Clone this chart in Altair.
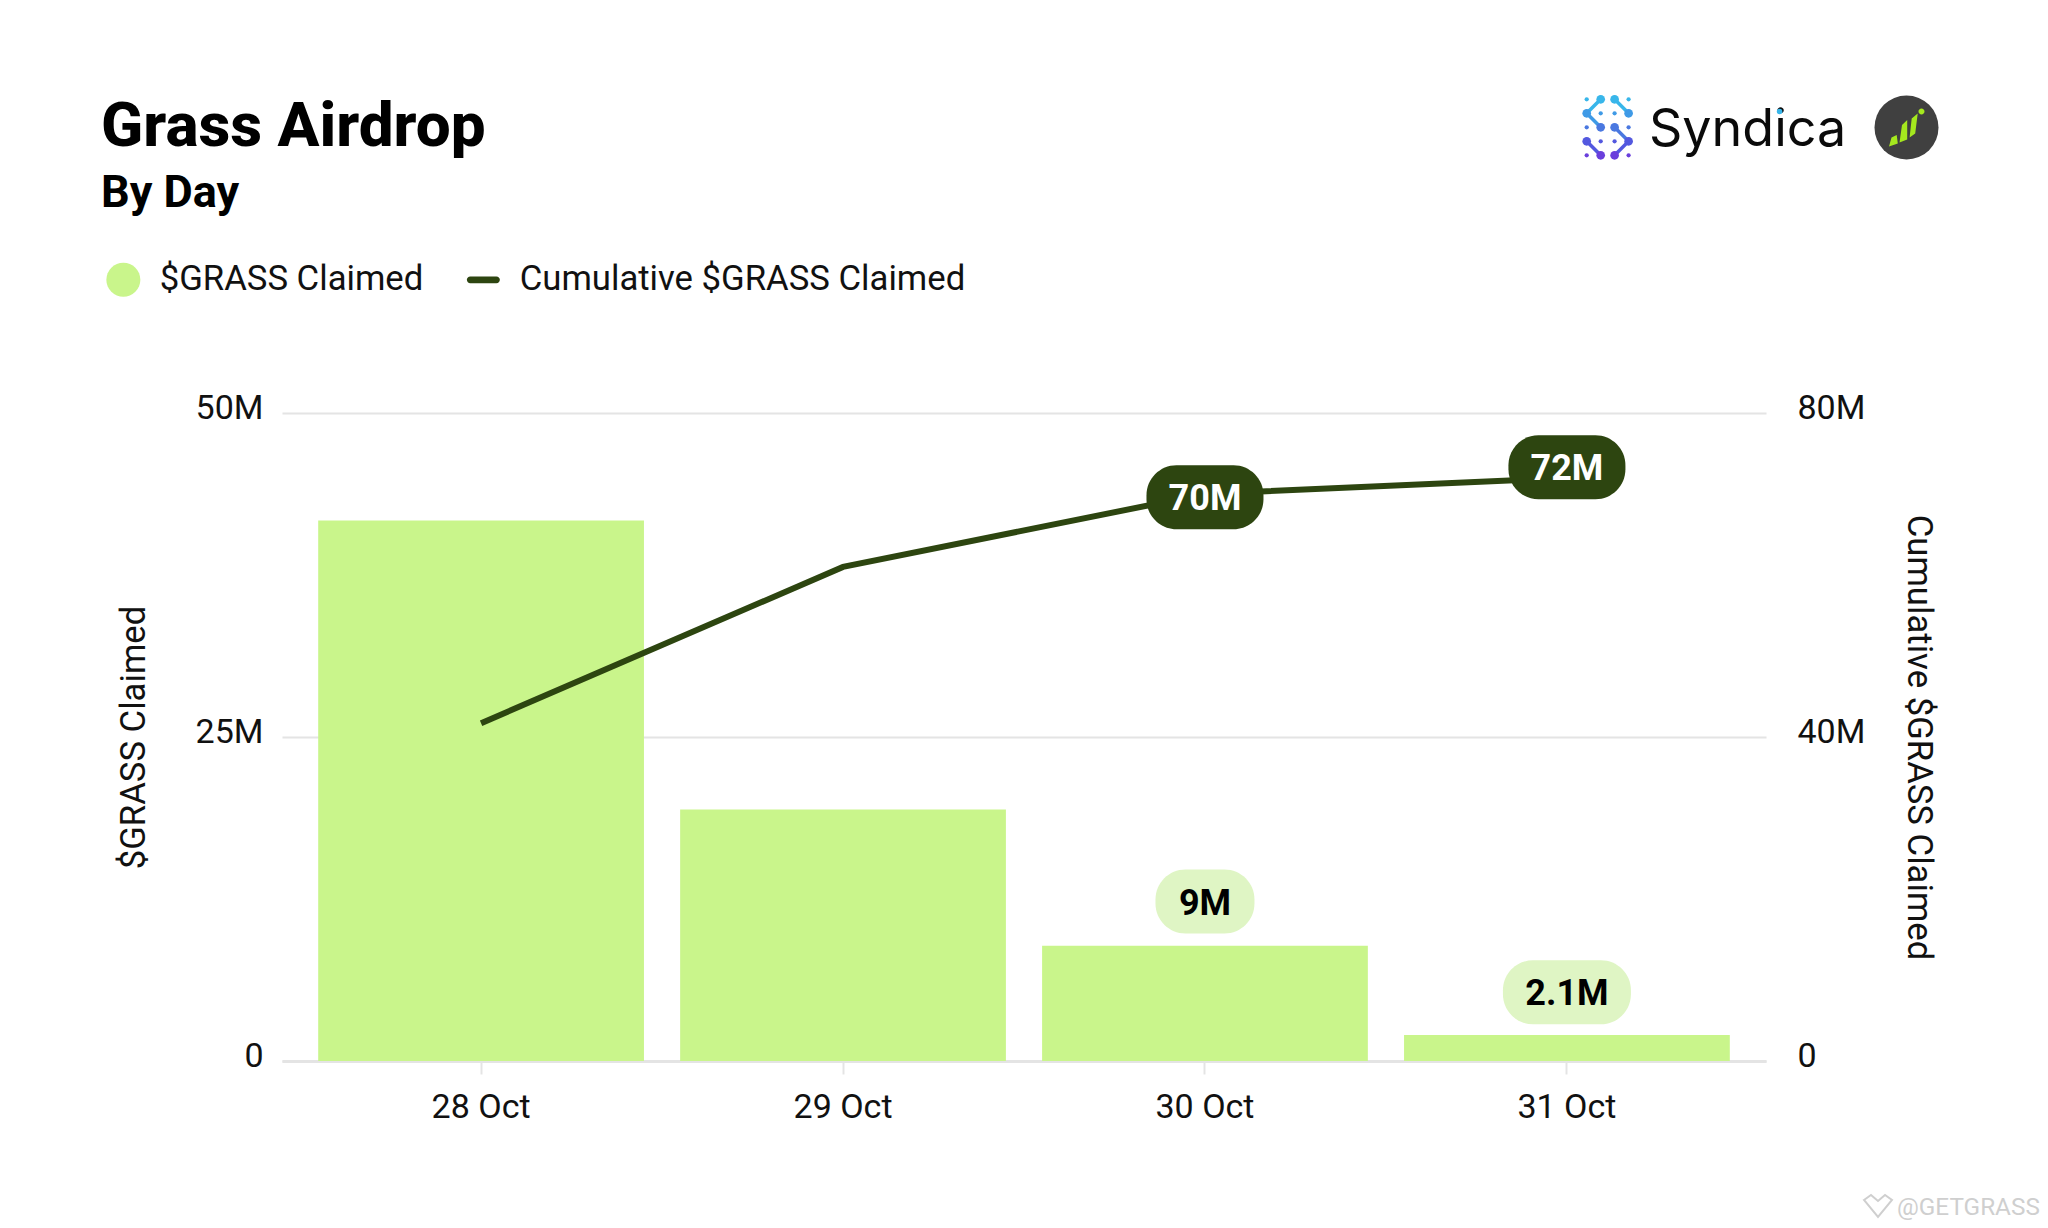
import altair as alt
import pandas as pd

# ---------- chart values ----------
days = ["28 Oct", "29 Oct", "30 Oct", "31 Oct"]
claimed = [41.7e6, 19.4e6, 8.9e6, 2.0e6]
cumulative = [41.7e6, 61.0e6, 70.0e6, 72.0e6]
series_names = ["$GRASS Claimed", "Cumulative $GRASS Claimed"]

dark_pill_days = ["30 Oct", "31 Oct"]
dark_pill_labels = ["70M", "72M"]
dark_pill_centers = [69.6e6, 73.3e6]
light_pill_days = ["30 Oct", "31 Oct"]
light_pill_labels = ["9M", "2.1M"]
light_pill_centers = [12.3e6, 5.3e6]

# ---------- layout / style ----------
FONT = "Roboto"
LIGHT = "#c9f58b"
DARK = "#2d4510"
PILL_LIGHT = "#dff5c4"
INK = "#111111"
GRID = "#e4e4e4"
W, H = 1484, 648
LEFT, TOP = 274, 405
ORIGIN_X, ORIGIN_Y = LEFT + 8, TOP + 8
LEFT_MAX, RIGHT_MAX = 50e6, 80e6


def fmt(expr="datum.value"):
    return f"{expr} === 0 ? '0' : ({expr} / 1000000) + 'M'"


x_scale = alt.Scale(domain=days, paddingInner=0.1, paddingOuter=0.1)
x_enc = alt.X(
    "day:N",
    scale=x_scale,
    title=None,
    axis=alt.Axis(
        labelAngle=0,
        labelFont=FONT,
        labelFontSize=34,
        labelColor=INK,
        labelPadding=16,
        domainColor=GRID,
        domainWidth=3,
        tickColor=GRID,
        tickWidth=2,
        tickSize=13,
    ),
)
x_plain = alt.X("day:N", scale=x_scale, title=None)
left_scale = alt.Scale(domain=[0, LEFT_MAX], nice=False)
right_scale = alt.Scale(domain=[0, RIGHT_MAX], nice=False)

base = pd.DataFrame({"day": days, "claimed": claimed, "cumulative": cumulative})

bars = (
    alt.Chart(base)
    .mark_bar(color=LIGHT)
    .encode(
        x=x_enc,
        y=alt.Y(
            "claimed:Q",
            scale=left_scale,
            axis=alt.Axis(
                values=[0, 25e6, 50e6],
                labelExpr=fmt(),
                title="$GRASS Claimed",
                titleFont=FONT,
                titleFontSize=34.7,
                titleFontWeight="normal",
                titleColor=INK,
                titleX=-148,
                titleY=H / 2,
                titleBaseline="middle",
                labelFont=FONT,
                labelFontSize=34,
                labelColor=INK,
                labelPadding=19,
                labelOffset=-5,
                domain=False,
                ticks=False,
                grid=True,
                gridColor=GRID,
                gridWidth=2,
            ),
        ),
    )
)

line = (
    alt.Chart(base)
    .mark_line(color=DARK, strokeWidth=6)
    .encode(
        x=x_plain,
        y=alt.Y(
            "cumulative:Q",
            scale=right_scale,
            axis=alt.Axis(
                orient="right",
                values=[0, 40e6, 80e6],
                labelExpr=fmt(),
                title="Cumulative $GRASS Claimed",
                titleFont=FONT,
                titleFontSize=34.7,
                titleFontWeight="normal",
                titleColor=INK,
                titleAngle=90,
                titleX=151,
                titleY=H / 2,
                titleBaseline="middle",
                labelFont=FONT,
                labelFontSize=34,
                labelColor=INK,
                labelPadding=31,
                labelOffset=-5,
                domain=False,
                ticks=False,
                grid=False,
            ),
        ),
    )
)


def pill(day, label, center, half, width, scale, fill, ink):
    d = pd.DataFrame(
        {"day": [day], "label": [label], "c": [center], "lo": [center - half], "hi": [center + half]}
    )
    shape = (
        alt.Chart(d)
        .mark_bar(width=width, color=fill, cornerRadius=30)
        .encode(
            x=x_plain,
            y=alt.Y("lo:Q", scale=scale, axis=None),
            y2="hi:Q",
        )
    )
    txt = (
        alt.Chart(d)
        .mark_text(font=FONT, fontSize=36, fontWeight="bold", color=ink, baseline="middle", dy=2)
        .encode(x=x_plain, y=alt.Y("c:Q", scale=scale, axis=None), text="label:N")
    )
    return [shape, txt]


half_left = 32 / H * LEFT_MAX
half_right = 32 / H * RIGHT_MAX
pills = []
for dy, lb, cn, wd in zip(dark_pill_days, dark_pill_labels, dark_pill_centers, [117, 117]):
    pills += pill(dy, lb, cn, half_right, wd, right_scale, DARK, "#ffffff")
for dy, lb, cn, wd in zip(light_pill_days, light_pill_labels, light_pill_centers, [99, 128]):
    pills += pill(dy, lb, cn, half_left, wd, left_scale, PILL_LIGHT, "#000000")

# ---------- legend (invisible carrier marks) ----------
dash = "M-0.77,-0.2 L0.77,-0.2 A0.2,0.2 0 0 1 0.77,0.2 L-0.77,0.2 A0.2,0.2 0 0 1 -0.77,-0.2 Z"
legend_cfg = dict(
    title=None,
    orient="none",
    legendX=-176,
    legendY=-151,
    direction="horizontal",
    labelFont=FONT,
    labelFontSize=34.7,
    labelColor=INK,
    labelLimit=700,
    symbolSize=1156,
    symbolOpacity=1,
    symbolStrokeWidth=0,
    labelOffset=19,
    columnPadding=42,
)
legend_layer = (
    alt.Chart(pd.DataFrame({"series": series_names}))
    .mark_point(filled=True, opacity=0)
    .encode(
        color=alt.Color("series:N", scale=alt.Scale(domain=series_names, range=[LIGHT, DARK]), legend=alt.Legend(**legend_cfg)),
        shape=alt.Shape("series:N", scale=alt.Scale(domain=series_names, range=["circle", dash]), legend=alt.Legend(**legend_cfg)),
    )
)

# ---------- logos & watermark (decoration, page-placed) ----------
logo_cols = [1586.7, 1600.7, 1614.6, 1628.6]
logo_rows = [99.3, 113.3, 127.3, 141.3, 155.3]
logo_colors = ["#38b6ea", "#3f9ae6", "#4a78e0", "#5358df", "#6a3fdc"]
small_dots = [(0, 0), (3, 0), (1, 1), (2, 1), (0, 2), (3, 2), (1, 3), (2, 3), (0, 4), (3, 4)]
big_dots = [(1, 0), (2, 0), (0, 1), (3, 1), (1, 2), (2, 2), (0, 3), (3, 3), (1, 4), (2, 4)]
links = [
    ((1, 0), (0, 1)), ((0, 1), (1, 2)), ((2, 0), (3, 1)), ((2, 2), (3, 3)),
    ((3, 3), (2, 4)), ((0, 3), (1, 4)),
]


def dot_rows(cells):
    return pd.DataFrame(
        {
            "px": [logo_cols[c] - ORIGIN_X for c, r in cells],
            "py": [logo_rows[r] - ORIGIN_Y for c, r in cells],
            "col": [logo_colors[r] for c, r in cells],
        }
    )


def dots(cells, size):
    return (
        alt.Chart(dot_rows(cells))
        .mark_point(filled=True, size=size, opacity=1)
        .encode(
            x=alt.X("px:Q", scale=None, axis=None),
            y=alt.Y("py:Q", scale=None, axis=None),
            color=alt.Color("col:N", scale=None, legend=None),
        )
    )


link_df = pd.DataFrame(
    {
        "px": [logo_cols[a[0]] - ORIGIN_X for a, b in links],
        "py": [logo_rows[a[1]] - ORIGIN_Y for a, b in links],
        "px2": [logo_cols[b[0]] - ORIGIN_X for a, b in links],
        "py2": [logo_rows[b[1]] - ORIGIN_Y for a, b in links],
        "col": [logo_colors[a[1]] for a, b in links],
    }
)
logo_links = (
    alt.Chart(link_df)
    .mark_rule(strokeWidth=3.5)
    .encode(
        x=alt.X("px:Q", scale=None, axis=None),
        y=alt.Y("py:Q", scale=None, axis=None),
        x2="px2:Q",
        y2="py2:Q",
        color=alt.Color("col:N", scale=None, legend=None),
    )
)


def page_text(s, x, y, size, color, font=FONT, weight="normal", align="left", opacity=1):
    return (
        alt.Chart(pd.DataFrame({"t": [s]}))
        .mark_text(font=font, fontSize=size, fontWeight=weight, color=color, align=align, baseline="alphabetic", opacity=opacity)
        .encode(x=alt.value(x - ORIGIN_X), y=alt.value(y - ORIGIN_Y), text="t:N")
    )


def page_point(x, y, size, color, shape="circle", filled=True, stroke_width=0):
    return (
        alt.Chart(pd.DataFrame({"k": [0]}))
        .mark_point(shape=shape, size=size, filled=filled, color=color, opacity=1, strokeWidth=stroke_width)
        .encode(x=alt.value(x - ORIGIN_X), y=alt.value(y - ORIGIN_Y))
    )


glyph = (
    "M-17.5,19 L-15,10 L-9.8,7.5 L-8.7,16 Z "
    "M-7,15 L-4.5,-2.4 L0.7,-7.5 L0.7,12 Z "
    "M3.1,10 L5.2,-9 L11.2,-14 L8.7,6 Z "
    "M12,-16 A3,3 0 1 1 18,-16 A3,3 0 1 1 12,-16 Z"
)
crown = "M-14,-6 L-7,-11 L0,-5 L7,-11 L14,-6 L0,11 Z"
decor = [
    logo_links,
    dots(big_dots, 75),
    dots(small_dots, 18),
    page_text("Syndica", 1649, 146, 52, "#0a0a0a", font="Inter"),
    page_point(1779.6, 111.5, 31, "#38b6ea"),
    page_point(1906.5, 127.5, 4096, "#404040"),
    page_point(1906.5, 127.5, 4, "#a5e81e", shape=glyph),
    page_text("@GETGRASS", 1897, 1215, 24.3, "#cfcfcf"),
    page_point(1878, 1206, 4, "#cfcfcf", shape=crown, filled=False, stroke_width=2),
]

chart = (
    alt.layer(bars, line, *pills, legend_layer, *decor)
    .resolve_scale(y="independent", x="shared")
    .properties(
        width=W,
        height=H,
        autosize=alt.AutoSizeParams(type="none"),
        padding={"left": LEFT, "top": TOP, "right": 2032 - LEFT - W, "bottom": 1212 - TOP - H},
        background="#ffffff",
        title=alt.TitleParams(
            text="Grass Airdrop",
            subtitle="By Day",
            anchor="start",
            frame="group",
            dx=-181,
            offset=-122,
            font=FONT,
            fontSize=62,
            fontWeight=800,
            color="#000000",
            subtitleFont=FONT,
            subtitleFontSize=45,
            subtitleFontWeight="bold",
            subtitleColor="#000000",
            subtitlePadding=12,
        ),
    )
    .configure_view(stroke=None)
)

chart.save("out.html", embed_options={"renderer": "svg", "actions": False})
